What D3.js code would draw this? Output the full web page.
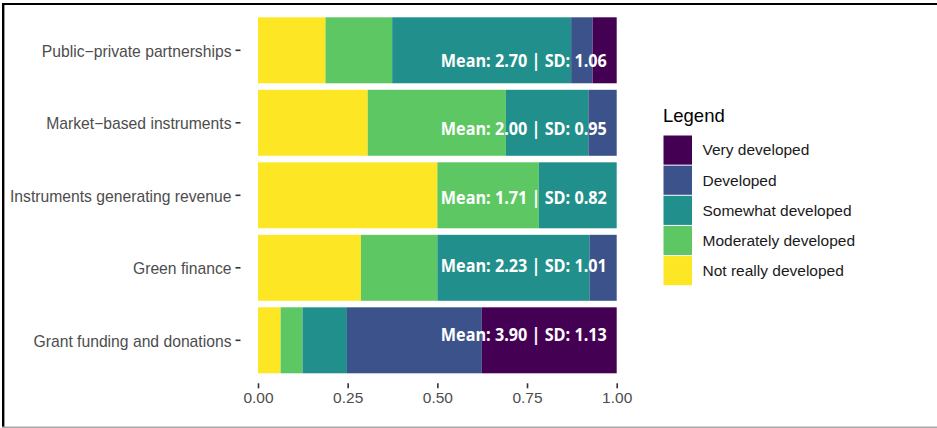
<!DOCTYPE html>
<html>
<head>
<meta charset="utf-8">
<script src="https://cdn.jsdelivr.net/npm/d3@7"></script>
<style>
  html, body { margin: 0; padding: 0; background: #fff; }
  svg { display: block; }
</style>
</head>
<body>
<svg id="chart" width="937" height="428"></svg>
<script>
// ---- Data ----
const categories = [
  "Public\u2212private partnerships",
  "Market\u2212based instruments",
  "Instruments generating revenue",
  "Green finance",
  "Grant funding and donations"
];
const levels = ["Not really developed", "Moderately developed", "Somewhat developed", "Developed", "Very developed"];
const notReally  = [0.188, 0.306, 0.500, 0.287, 0.063];
const moderately = [0.186, 0.385, 0.283, 0.213, 0.061];
const somewhat   = [0.499, 0.230, 0.217, 0.424, 0.124];
const developed  = [0.060, 0.079, 0.000, 0.076, 0.376];
const very       = [0.067, 0.000, 0.000, 0.000, 0.376];
const means = ["2.70", "2.00", "1.71", "2.23", "3.90"];
const sds   = ["1.06", "0.95", "0.82", "1.01", "1.13"];
const xTicks = [0, 0.25, 0.5, 0.75, 1];
const colors = ["#FDE725", "#5DC863", "#21908C", "#3B528B", "#440154"];

// ---- Build table ----
const seriesVals = [notReally, moderately, somewhat, developed, very];
const rows = categories.map((c, i) => {
  const r = { cat: c };
  levels.forEach((l, j) => r[l] = seriesVals[j][i]);
  return r;
});
const stacked = d3.stack().keys(levels)(rows);

const svg = d3.select("#chart");

// Frame
svg.append("line").attr("x1", 2).attr("x2", 937).attr("y1", 4).attr("y2", 4)
  .attr("stroke", "#000").attr("stroke-width", 2.2);
svg.append("line").attr("x1", 3.2).attr("x2", 3.2).attr("y1", 3).attr("y2", 428)
  .attr("stroke", "#000").attr("stroke-width", 2.4);
svg.append("line").attr("x1", 2).attr("x2", 937).attr("y1", 427.2).attr("y2", 427.2)
  .attr("stroke", "#a8a8a8").attr("stroke-width", 1.5);

// Scales
const x = d3.scaleLinear().domain([0, 1]).range([258, 616.7]);
const y = d3.scaleBand().domain(categories).range([17.3, 373.3]).paddingInner(0.09).paddingOuter(0);
const color = d3.scaleOrdinal().domain(levels).range(colors);
const labelY = d3.scaleLinear().domain([0, categories.length - 1]).range([66.7, 341]);

// Bars
svg.append("g").selectAll("g").data(stacked).join("g")
  .attr("fill", d => color(d.key))
  .selectAll("rect").data(d => d).join("rect")
  .attr("x", d => x(d[0]))
  .attr("width", d => Math.max(0, x(d[1]) - x(d[0])))
  .attr("y", d => y(d.data.cat))
  .attr("height", y.bandwidth());

// Labels on bars
const lab = svg.append("g").selectAll("text").data(categories).join("text")
  .attr("x", 606.8)
  .attr("y", (d, i) => labelY(i))
  .attr("text-anchor", "end")
  .attr("fill", "#fff")
  .attr("font-family", "'Open Sans', sans-serif")
  .attr("font-weight", "bold")
  .attr("font-size", 17)
  .text((d, i) => `Mean: ${means[i]} | SD: ${sds[i]}`);
lab.each(function() {
  const L = this.getComputedTextLength();
  const target = 166 * this.textContent.length / 21;
  if (L > target) d3.select(this).attr("textLength", target).attr("lengthAdjust", "spacingAndGlyphs");
});

// X axis
const xAxis = svg.append("g").attr("transform", "translate(0,383.3)")
  .call(d3.axisBottom(x).tickValues(xTicks).tickFormat(d3.format(".2f")).tickSize(5).tickPadding(3.5));
xAxis.select(".domain").remove();
xAxis.selectAll("line").attr("stroke", "#333").attr("stroke-width", 1.6);
xAxis.selectAll("text").attr("fill", "#4D4D4D").attr("font-family", "'Liberation Sans', Arial, sans-serif").attr("font-size", 15.5);

// Y axis
const yAxis = svg.append("g").attr("transform", "translate(240.5,0)")
  .call(d3.axisLeft(y).tickSize(5).tickPadding(4));
yAxis.select(".domain").remove();
yAxis.selectAll("line").attr("stroke", "#333").attr("stroke-width", 1.6);
yAxis.selectAll("text").attr("fill", "#4D4D4D").attr("font-family", "'Liberation Sans', Arial, sans-serif")
  .attr("font-size", 15.7).attr("dy", "0.4em");

// Legend
const legend = svg.append("g").attr("transform", "translate(663,0)");
legend.append("text").attr("x", 0).attr("y", 121.5)
  .attr("font-family", "'Liberation Sans', Arial, sans-serif").attr("font-size", 18.5)
  .attr("fill", "#000").text("Legend");
const legOrder = levels.slice().reverse();
const ly = d3.scaleBand().domain(legOrder).range([135, 285.7]);
const li = legend.selectAll("g.item").data(legOrder).join("g").attr("class", "item")
  .attr("transform", d => `translate(0,${ly(d)})`);
li.append("rect").attr("x", 0.5).attr("y", 0.5).attr("width", 28.5).attr("height", ly.bandwidth() - 1)
  .attr("fill", d => color(d));
li.append("text").attr("x", 39.5).attr("y", ly.bandwidth() / 2).attr("dy", "0.35em")
  .attr("font-family", "'Liberation Sans', Arial, sans-serif").attr("font-size", 15.5)
  .attr("fill", "#1a1a1a").text(d => d);
</script>
</body>
</html>
